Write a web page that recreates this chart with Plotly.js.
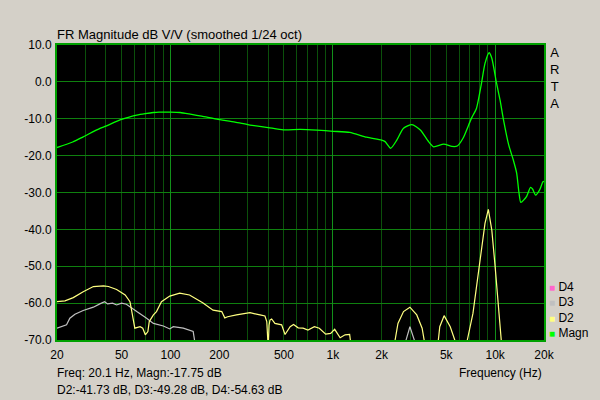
<!DOCTYPE html>
<html>
<head>
<meta charset="utf-8">
<script src="https://cdn.plot.ly/plotly-3.0.1.min.js"></script>
<style>html,body{margin:0;padding:0;background:#d4d0c8;}#chart{width:600px;height:400px;}</style>
</head>
<body>
<div id="chart"></div>
<script>
// ---- data ----
const magnFreq = [20, 25, 29, 36.8, 40, 48.9, 55, 62, 70, 78.5, 85, 100, 114.6, 130, 145, 170, 193, 250, 309, 400, 496, 630, 800, 1008, 1272, 1616, 2000, 2100, 2274, 2478, 2726, 3072, 3460, 3890, 4180, 4820, 5420, 5840, 6340, 7140, 7670, 8240, 8660, 9180, 9540, 10160, 10720, 11260, 12120, 12940, 13580, 14000, 14400, 15600, 16520, 17000, 17760, 18800, 19700, 20000];
const magnDb = [-17.8, -16.3, -14.9, -12.6, -12.0, -10.3, -9.6, -9.0, -8.6, -8.3, -8.2, -8.2, -8.3, -8.7, -9.1, -9.6, -10.1, -10.9, -11.7, -12.4, -13.0, -12.9, -13.1, -13.4, -13.7, -15.0, -15.8, -16.2, -18.0, -15.8, -12.6, -11.6, -13.05, -16.2, -17.6, -16.9, -17.5, -17.4, -15.3, -9.9, -7.2, -0.4, 5.0, 7.9, 6.4, 0.05, -4.9, -10.3, -17.1, -21.2, -24.8, -29.8, -32.7, -31.1, -28.6, -29.05, -30.7, -29.3, -27.1, -27.0];

const d2Freq = [20, 22.4, 25.2, 29, 33.5, 38.7, 41.5, 46.6, 52.6, 56.3, 57.6, 60.3, 65, 67.5, 70, 72.6, 74, 78.5, 82, 88, 99, 114, 131, 158, 183, 207, 216, 225, 255, 309, 356, 382, 392, 400, 405, 410, 420, 440, 484, 508, 546, 573, 612, 656, 703, 770, 826, 904, 970, 1027, 1110, 1190, 1270, 1300, 1320, 2400, 2420, 2520, 2726, 2986, 3290, 3550, 3680, 3720, 4420, 4460, 4560, 4850, 5290, 5640, 5700, 6700, 6740, 7300, 8020, 8660, 9080, 9540, 10000, 10500, 10940, 11000];
const d2Db = [-59.6, -59.4, -58.5, -56.9, -55.5, -55.3, -55.5, -56.3, -57.8, -59.6, -61.9, -66.8, -66.4, -66.8, -68.6, -67.7, -65.0, -63.2, -62.3, -59.6, -58.1, -57.3, -57.8, -59.9, -61.9, -62.3, -64.0, -63.7, -63.2, -62.6, -63.2, -63.5, -65.0, -72, -66.0, -64.6, -64.3, -65.5, -65.9, -68.5, -66.4, -65.8, -66.7, -66.8, -67.3, -66.4, -66.8, -68.4, -68.2, -67.1, -69.4, -68.6, -68.5, -72, null, -72, -70, -65.5, -62.3, -61.1, -63.2, -66.8, -70, -72, -72, -70, -66.4, -63.4, -66.4, -70, -72, -72, -70, -62.8, -50.1, -38.4, -34.6, -40.2, -50.1, -61.0, -70, -72];

const d3Freq = [20, 22.9, 24, 25.8, 29, 33.5, 36.7, 39.3, 41, 44, 46.6, 50, 53.5, 57.6, 62, 71.3, 78.5, 90.4, 99, 104, 120, 138, 141, 143, 2800, 2826, 2986, 3178, 3200];
const d3Db = [-66.8, -65.9, -64.1, -63.0, -62.0, -61.1, -60.2, -59.6, -60.2, -60.0, -60.5, -60.0, -60.3, -61.4, -62.3, -64.1, -65.5, -66.2, -67.0, -66.4, -66.8, -67.7, -70, -72, -72, -70, -66.4, -70, -72];

const xTickVals = [20, 50, 100, 200, 500, 1000, 2000, 5000, 10000, 20000];
const xTickText = ['20', '50', '100', '200', '500', '1k', '2k', '5k', '10k', '20k'];
const yTickVals = [10, 0, -10, -20, -30, -40, -50, -60, -70];
const yTickText = ['10.0', '0.0', '-10.0', '-20.0', '-30.0', '-40.0', '-50.0', '-60.0', '-70.0'];
const decadeGrid = [100, 1000, 10000];
const legendNames = ['D4', 'D3', 'D2', 'Magn'];
const legendColors = ['#ff66cc', '#c0c0c0', '#ffff80', '#00ff00'];

// minor grid positions: 1..9 times each decade
const minorGrid = [];
[10, 100, 1000, 10000].forEach(d => { for (let m = 1; m <= 9; m++) { const v = m * d; if (v >= 20 && v <= 20000 && decadeGrid.indexOf(v) < 0) minorGrid.push(v); } });

const FONT = 'Liberation Sans, Arial, sans-serif';
const xr = [Math.log10(20), Math.log10(20000)];

const traces = [
  {x: d3Freq, y: d3Db, type: 'scatter', mode: 'lines', line: {color: '#c0c0c0', width: 1.2}, connectgaps: false, showlegend: false, hoverinfo: 'skip'},
  {x: d2Freq, y: d2Db, type: 'scatter', mode: 'lines', line: {color: '#ffff80', width: 1.2}, connectgaps: false, showlegend: false, hoverinfo: 'skip'},
  {x: magnFreq, y: magnDb, type: 'scatter', mode: 'lines', line: {color: '#00ff00', width: 1.3, shape: 'spline', smoothing: 0.6}, showlegend: false, hoverinfo: 'skip'},
  {x: [], y: [], xaxis: 'x2', type: 'scatter', mode: 'lines', showlegend: false, hoverinfo: 'skip'}
];

const annotations = [
  {text: 'A<br>R<br>T<br>A', xref: 'paper', yref: 'paper', x: 1, y: 1, xanchor: 'left', yanchor: 'top', xshift: 4, yshift: 2, showarrow: false, align: 'center', font: {family: FONT, size: 13, color: '#000'}},
  {text: 'Freq: 20.1 Hz, Magn:-17.75 dB', xref: 'paper', yref: 'paper', x: 0, y: 0, xanchor: 'left', yanchor: 'middle', yshift: -33, xshift: -2, showarrow: false, font: {family: FONT, size: 12, color: '#000'}},
  {text: 'D2:-41.73 dB, D3:-49.28 dB, D4:-54.63 dB', xref: 'paper', yref: 'paper', x: 0, y: 0, xanchor: 'left', yanchor: 'middle', yshift: -50, xshift: -2, showarrow: false, font: {family: FONT, size: 12, color: '#000'}},
  {text: 'Frequency (Hz)', xref: 'paper', yref: 'paper', x: 1, y: 0, xanchor: 'right', yanchor: 'middle', yshift: -33, showarrow: false, font: {family: FONT, size: 12, color: '#000'}}
];
legendNames.forEach((n, i) => {
  annotations.push({text: '<span style="color:' + legendColors[i] + ';font-size:10px">■</span> ' + n, xref: 'paper', yref: 'paper', x: 1, y: 0, xanchor: 'left', yanchor: 'middle', xshift: 3, yshift: 53 - i * 15.3, showarrow: false, font: {family: FONT, size: 12, color: '#000'}});
});

const layout = {
  width: 600, height: 400,
  paper_bgcolor: '#d4d0c8', plot_bgcolor: '#000000',
  margin: {l: 57, r: 56, t: 45, b: 60, pad: 0},
  showlegend: false,
  font: {family: FONT, size: 12, color: '#000'},
  title: {text: 'FR Magnitude dB V/V (smoothed 1/24 oct)', x: 57 / 600, xanchor: 'left', xref: 'container', y: 1 - 34 / 400, yref: 'container', yanchor: 'middle', font: {family: FONT, size: 13, color: '#000'}},
  xaxis: {type: 'log', range: xr, tickvals: xTickVals, ticktext: xTickText, ticks: '', showgrid: false, zeroline: false,
          showline: true, linecolor: '#00a000', linewidth: 2, mirror: true,
          minor: {tickvals: minorGrid, showgrid: true, gridcolor: '#0b500b', gridwidth: 1, ticks: ''},
          tickfont: {family: FONT, size: 12, color: '#000'}, ticklabelstandoff: 3, fixedrange: true},
  xaxis2: {type: 'log', range: xr, overlaying: 'x', anchor: 'y', tickvals: decadeGrid, showticklabels: false, ticks: '', showgrid: true, gridcolor: '#12901a', gridwidth: 1, zeroline: false, showline: false, fixedrange: true},
  yaxis: {range: [-70, 10], tickvals: yTickVals, ticktext: yTickText, ticks: '', showgrid: true, gridcolor: '#0f800f', gridwidth: 1, zeroline: false,
          showline: true, linecolor: '#00a000', linewidth: 2, mirror: true, tickfont: {family: FONT, size: 12, color: '#000'}, ticklabelstandoff: 1, fixedrange: true},
  annotations: annotations
};

Plotly.newPlot('chart', traces, layout, {staticPlot: true, displayModeBar: false});
</script>
</body>
</html>
